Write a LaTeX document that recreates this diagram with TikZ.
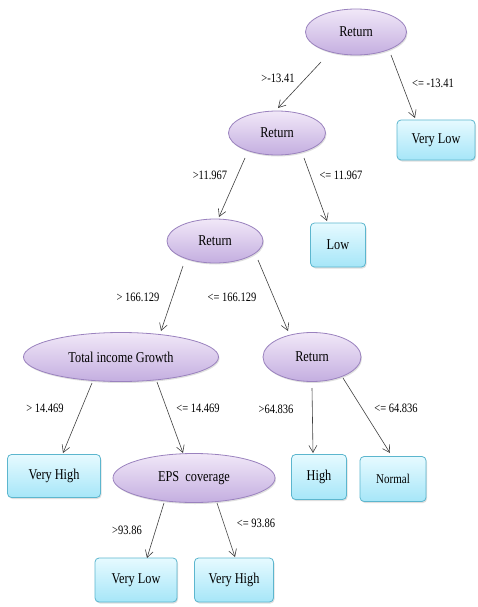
\documentclass[tikz,border=0pt]{standalone}
\usepackage{graphicx}
\usepackage{fontspec}
\setmainfont{Liberation Serif}
\usetikzlibrary{shapes.geometric,arrows.meta,shadows}
\definecolor{elltop}{HTML}{F1E8F8}
\definecolor{ellbot}{HTML}{C4AEE0}
\definecolor{elldraw}{HTML}{9A82BE}
\definecolor{boxtop}{HTML}{E6FAFF}
\definecolor{boxbot}{HTML}{A6E6F8}
\definecolor{boxdraw}{HTML}{5CB6CE}
\newcommand{\tall}[1]{\scalebox{1}[1.22]{#1}}
\tikzset{
  attr/.style={ellipse, draw=elldraw, line width=0.8pt, top color=elltop, bottom color=ellbot,
    inner sep=0pt, font=\fontsize{12.3}{14}\selectfont, drop shadow={shadow xshift=1pt,shadow yshift=-1.5pt,opacity=0.25}},
  leaf/.style={rectangle, rounded corners=4pt, draw=boxdraw, line width=0.8pt, top color=boxtop, bottom color=boxbot,
    inner sep=0pt, font=\fontsize{12.3}{14}\selectfont, drop shadow={shadow xshift=1pt,shadow yshift=-1.5pt,opacity=0.25}},
  edge/.style={draw=black!75, line width=0.6pt, -{Straight Barb[length=7pt,width=8pt]}},
  lbl/.style={font=\fontsize{10.5}{12}\selectfont, inner sep=0pt}
}
\newcommand{\rel}[3]{([shift={(#2,#3)}]#1.center)}
\begin{document}
\begin{tikzpicture}[x=1pt,y=-1pt]
\useasboundingbox (0,0) rectangle (478,607);
% nodes
\node[attr, minimum width=101pt, minimum height=46pt] (r1) at (356,32) {\tall{Return}};
\node[leaf, minimum width=78pt, minimum height=40pt] (vl1) at (436,140) {\tall{Very Low}};
\node[attr, minimum width=97pt, minimum height=44pt] (r2) at (277,133) {\tall{Return}};
\node[leaf, minimum width=55pt, minimum height=44pt] (low) at (338,245) {\tall{Low}};
\node[attr, minimum width=96pt, minimum height=44pt] (r3) at (215,241) {\tall{Return}};
\node[attr, minimum width=195pt, minimum height=49pt] (tig) at (121,357) {\tall{Total income Growth}};
\node[attr, minimum width=98pt, minimum height=49pt] (r4) at (312,357) {\tall{Return}};
\node[leaf, minimum width=93pt, minimum height=43pt] (vh1) at (54,476) {\tall{Very High}};
\node[attr, minimum width=162pt, minimum height=49pt] (eps) at (194,478) {\tall{EPS\ \ coverage}};
\node[leaf, minimum width=55pt, minimum height=45pt] (high) at (319,477) {\tall{High}};
\node[leaf, minimum width=66pt, minimum height=45pt, font=\fontsize{11}{13}\selectfont] (norm) at (393,479) {\tall{Normal}};
\node[leaf, minimum width=82pt, minimum height=44pt] (vl2) at (136,580) {\tall{Very Low}};
\node[leaf, minimum width=79pt, minimum height=44pt] (vh2) at (234,580) {\tall{Very High}};
% edges
\draw[edge] \rel{r1}{-35}{30} -- \rel{r2}{1}{-25};
\draw[edge] \rel{r1}{35}{23} -- \rel{vl1}{-21}{-22};
\draw[edge] \rel{r2}{-32}{25} -- \rel{r3}{4}{-24};
\draw[edge] \rel{r2}{27}{25} -- \rel{low}{-11}{-24};
\draw[edge] \rel{r3}{-32}{25} -- \rel{tig}{40}{-26};
\draw[edge] \rel{r3}{43}{19} -- \rel{r4}{-24}{-26};
\draw[edge] \rel{tig}{-29}{26} -- \rel{vh1}{9}{-23};
\draw[edge] \rel{tig}{36}{25} -- \rel{eps}{-11}{-25};
\draw[edge] \rel{r4}{0}{31} -- \rel{high}{-6}{-24};
\draw[edge] \rel{r4}{31}{21} -- \rel{norm}{-3}{-26};
\draw[edge] \rel{eps}{-30}{25} -- \rel{vl2}{11}{-22};
\draw[edge] \rel{eps}{23}{25} -- \rel{vh2}{1}{-23};
% labels
\node[lbl] (l1) at (278,78) {\tall{>-13.41}};
\node[lbl] (l2) at (433,83) {\tall{<= -13.41}};
\node[lbl] (l3) at (210,175) {\tall{>11.967}};
\node[lbl] (l4) at (341,175) {\tall{<= 11.967}};
\node[lbl] (l5) at (138,297) {\tall{> 166.129}};
\node[lbl] (l6) at (232,297) {\tall{<= 166.129}};
\node[lbl] (l7) at (45,408) {\tall{> 14.469}};
\node[lbl] (l8) at (198,408) {\tall{<= 14.469}};
\node[lbl] (l9) at (276,409) {\tall{>64.836}};
\node[lbl] (l10) at (396,408) {\tall{<= 64.836}};
\node[lbl] (l11) at (127,530) {\tall{>93.86}};
\node[lbl] (l12) at (256,523) {\tall{<= 93.86}};
\end{tikzpicture}
\end{document}
